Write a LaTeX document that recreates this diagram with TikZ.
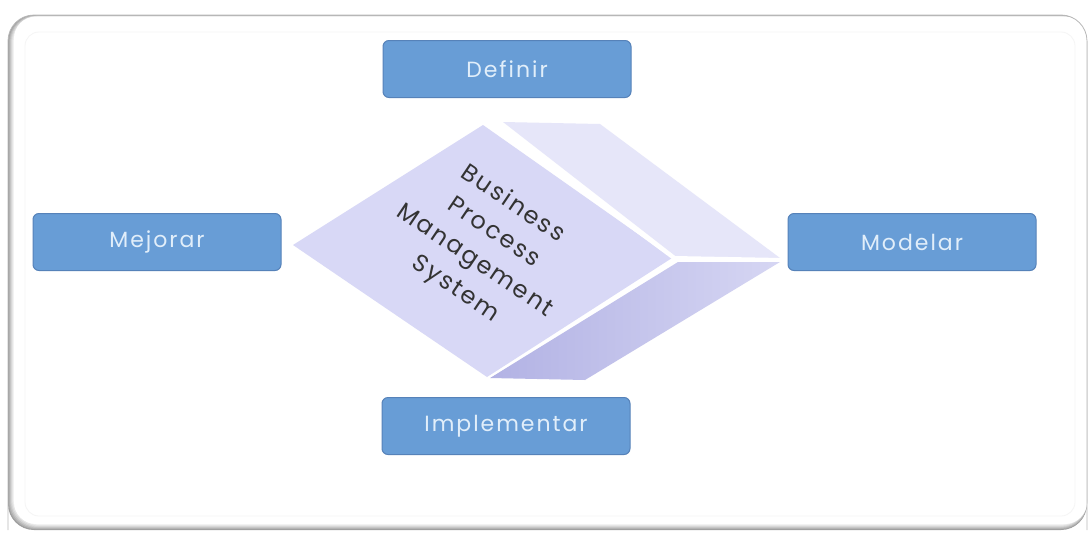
\documentclass[tikz,border=0pt]{standalone}
\usepackage{fontspec}
\setmainfont{Poppins}
\begin{document}
\begin{tikzpicture}[x=1pt,y=-1pt,
  stage/.style={draw=stageedge, line width=1pt, fill=stagefill, rounded corners=6pt,
    minimum width=248pt, minimum height=57pt, inner sep=0pt,
    text=stagetext, font=\fontsize{22}{24}\selectfont\addfontfeatures{LetterSpace=9}},
  face/.style={line join=round}]
\definecolor{stagefill}{RGB}{104,157,214}
\definecolor{stageedge}{RGB}{86,130,185}
\definecolor{stagetext}{RGB}{225,238,250}
\definecolor{frontface}{RGB}{216,216,246}
\definecolor{topface}{RGB}{230,230,249}
\definecolor{lowdark}{RGB}{178,178,228}
\definecolor{lowlight}{RGB}{214,214,243}
\useasboundingbox (0,0) rectangle (1089,533);
% framed panel with a soft shadow on the left and bottom
\foreach \k/\g in {0/62,1/70,2/77,3/84,4/90,5/95} {
  \fill[white!\g!black, rounded corners=26pt]
    (8+\k,15+0.3*\k) rectangle (1087,530-\k);
}
\fill[white, rounded corners=22pt] (14,16.5) rectangle (1087,524);
\draw[black!28, line width=0.8pt, rounded corners=26pt]
  (8,530) -- (8,15) -- (1087,15) -- (1087,530);
\draw[black!4, line width=0.8pt, rounded corners=14pt] (25,32) rectangle (1075,516);
% prism: front face, upper face and lower face
\fill[face, frontface] (293,245) -- (483,125) -- (672,258) -- (487,377) -- cycle;
\fill[face, topface] (503,122) -- (600,124) -- (780,258) -- (678,258) -- cycle;
\shade[face, left color=lowdark, right color=lowlight]
  (678,262) -- (780,262) -- (585,380) -- (490,378) -- cycle;
\draw[white, line width=4pt] (490,122) -- (674,258) -- (782,260);
\draw[white, line width=1.5pt] (674,260) -- (488,378);
\node[rotate=-34, align=center, text=black!80, inner sep=0pt,
  font=\fontsize{24}{34}\selectfont\addfontfeatures{LetterSpace=9}] (core) at (484,247)
  {Business\\Process\\Management\\System};
% the four stages around the prism
\node[stage] (definir) at (507,69) {Definir};
\node[stage] (modelar) at (912,242) {Modelar};
\node[stage] (implementar) at (506,426) {Implementar};
\node[stage] (mejorar) at (157,242) {Mejorar};
\end{tikzpicture}
\end{document}
